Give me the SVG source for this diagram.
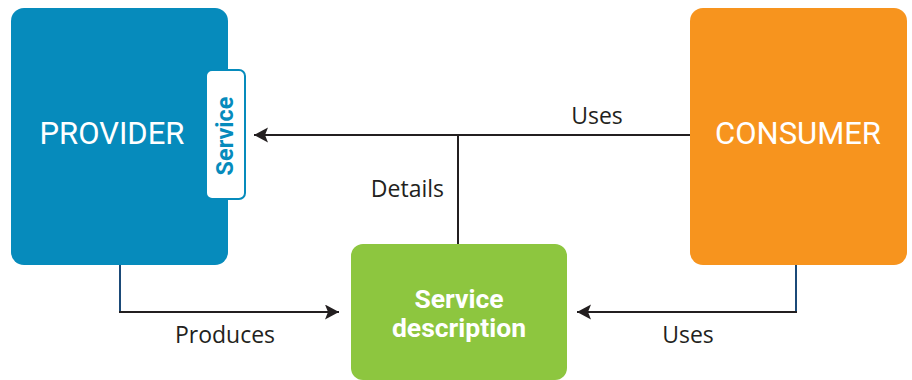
<svg xmlns="http://www.w3.org/2000/svg" width="912" height="380" viewBox="0 0 912 380">
<style>
.lbl{font-family:"Open Sans","Liberation Sans",sans-serif;font-size:23px;fill:#231f20}
.big{font-family:Roboto,"Liberation Sans",sans-serif;font-size:31px;fill:#fff}
.ln{fill:none;stroke:#231f20;stroke-width:2}
.stub{fill:none;stroke:#1b4a78;stroke-width:2}
.sd{font-family:Roboto,"Liberation Sans",sans-serif;font-weight:bold;font-size:26.5px;fill:#fff}
</style>
<defs>
<marker id="ah" markerWidth="16" markerHeight="16" refX="14" refY="7.5" orient="auto" markerUnits="userSpaceOnUse">
<path d="M0,0 L14,7.5 L0,15 L3,7.5 Z" fill="#231f20"/>
</marker>
</defs>
<g id="provider">
<rect x="11" y="8" width="217" height="257" rx="13" fill="#068bbc"/>
<text class="big" x="112" y="144" text-anchor="middle">PROVIDER</text>
</g>
<g id="service">
<rect x="206" y="70" width="39" height="129" rx="6" fill="#fff" stroke="#068bbc" stroke-width="2"/>
<text transform="translate(233,136) rotate(-90)" text-anchor="middle" font-family="Roboto,'Liberation Sans',sans-serif" font-weight="bold" font-size="23.5" fill="#068bbc">Service</text>
</g>
<g id="consumer">
<rect x="690" y="8" width="217" height="257" rx="13" fill="#f7941e"/>
<text class="big" x="798" y="144" text-anchor="middle">CONSUMER</text>
</g>
<g id="service-description">
<rect x="351" y="244" width="216" height="136" rx="12" fill="#8dc63f"/>
<text class="sd" x="459" y="308" text-anchor="middle">Service</text>
<text class="sd" x="459" y="337" text-anchor="middle">description</text>
</g>
<g id="connectors">
<line class="ln" x1="690" y1="135" x2="254" y2="135" marker-end="url(#ah)"/>
<line class="ln" x1="458" y1="135" x2="458" y2="244"/>
<line class="stub" x1="120" y1="265" x2="120" y2="312"/>
<line class="ln" x1="119" y1="312" x2="339" y2="312" marker-end="url(#ah)"/>
<line class="stub" x1="796" y1="265" x2="796" y2="312"/>
<line class="ln" x1="797" y1="312" x2="577" y2="312" marker-end="url(#ah)"/>
<text class="lbl" x="597" y="124" text-anchor="middle">Uses</text>
<text class="lbl" x="444" y="197" text-anchor="end">Details</text>
<text class="lbl" x="225" y="343" text-anchor="middle">Produces</text>
<text class="lbl" x="688" y="343" text-anchor="middle">Uses</text>
</g>
</svg>
